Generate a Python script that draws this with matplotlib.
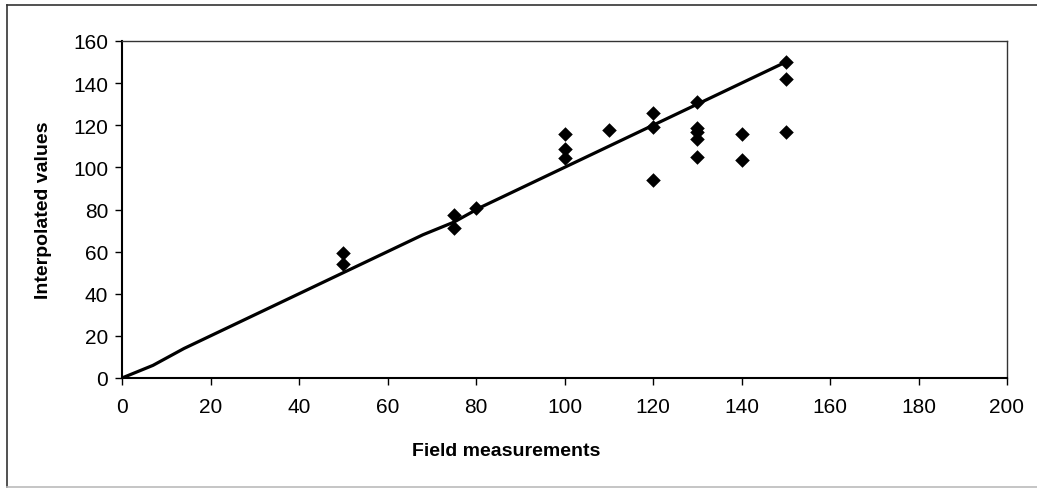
import numpy as np
import matplotlib.pyplot as plt
from matplotlib.lines import Line2D

field = [50, 50, 75, 75, 80, 100, 100, 100, 110, 120, 120, 120,
         130, 130, 130, 130, 130, 140, 140, 150, 150, 150]
interp = [59.5, 54, 77.5, 71, 80.5, 116, 108.7, 104.5, 117.8, 125.8, 119, 94.2,
          130.9, 118.6, 116.8, 113.5, 104.8, 116, 103.7, 150, 142, 116.7]

# 1:1 reference line vertices
line_x = [0, 7, 14, 20, 27, 34, 40, 47, 54, 61, 68, 75, 81, 88, 95,
          102, 109, 116, 123, 130, 137, 144, 150]
line_y = [0, 6, 14, 20, 27, 34, 40, 47, 54, 61, 68, 74, 81, 88, 95,
          102, 109, 116, 123, 130, 137, 144, 150]

plt.rcParams['font.family'] = ['Liberation Sans', 'DejaVu Sans']

fig = plt.figure(figsize=(10.37, 4.89), dpi=100)
ax = fig.add_axes([122/1037, 1 - 379/489, (1007-122)/1037, (379-42)/489])

ax.plot(line_x, line_y, color='black', lw=2.3, solid_joinstyle='round', zorder=2)
ax.scatter(field, interp, marker='D', s=55, color='black', zorder=3, linewidths=0)

ax.set_xlim(0, 200)
ax.set_ylim(0, 160)
ax.set_xticks(np.arange(0, 201, 20))
ax.set_yticks(np.arange(0, 161, 20))
ax.tick_params(labelsize=15, length=5, width=1, direction='out', color='black')
ax.tick_params(axis='x', pad=9)
ax.tick_params(axis='y', pad=5)
for s in ax.spines.values():
    s.set_linewidth(1.0)
ax.spines['left'].set_linewidth(1.5)
ax.spines['bottom'].set_linewidth(1.5)
ax.spines['right'].set_color('#333333')
ax.spines['top'].set_color('#333333')

ax.set_xlabel('Field measurements', fontsize=14, fontweight='bold')
ax.xaxis.set_label_coords((506 - 122) / (1007 - 122), -(443 - 379) / (379 - 42))
ax.set_ylabel('Interpolated values', fontsize=14, fontweight='bold')
ax.yaxis.set_label_coords(-(122 - 52) / (1007 - 122), 0.5)

# outer chart frame
fig.add_artist(Line2D([7/1037, 7/1037], [1 - 6/489, 1 - 488/489], color='#333333', lw=1.2,
                      transform=fig.transFigure))
fig.add_artist(Line2D([7/1037, 1], [1 - 6/489, 1 - 6/489], color='#333333', lw=1.2,
                      transform=fig.transFigure))
fig.add_artist(Line2D([7/1037, 1], [1 - 488/489, 1 - 488/489], color='#bbbbbb', lw=1.2,
                      transform=fig.transFigure))

fig.savefig('out.png', dpi=100)
